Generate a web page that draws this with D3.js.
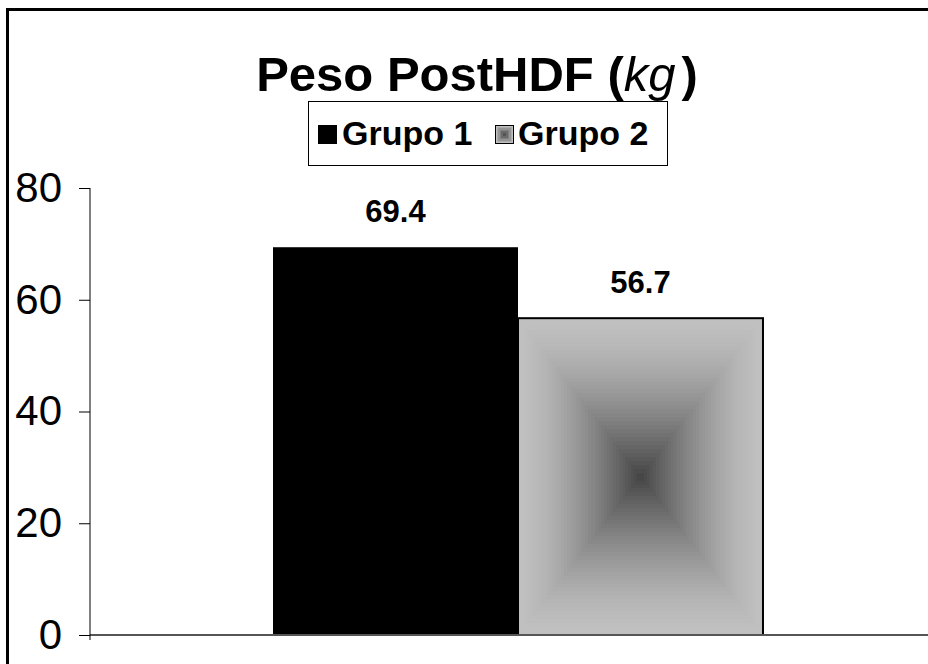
<!DOCTYPE html>
<html>
<head>
<meta charset="utf-8">
<script src="https://cdn.jsdelivr.net/npm/d3@7"></script>
<style>
  html, body { margin: 0; padding: 0; background: #fff; overflow: hidden; }
  svg { display: block; font-family: "Liberation Sans", Arial, sans-serif; }
</style>
</head>
<body>
<svg id="chart" width="928" height="664"></svg>
<script>
// Data
const categories = ["Peso PostHDF"];
const seriesNames = ["Grupo 1", "Grupo 2"];
const seriesValues = [69.4, 56.7];
const yTicks = [0, 20, 40, 60, 80];

const svg = d3.select("#chart");
const W = 928, H = 664;

// Plot geometry
const plot = { left: 90, right: 946, top: 188, bottom: 635 };

const y = d3.scaleLinear().domain([0, 80]).range([plot.bottom, plot.top]);
const x0 = d3.scaleBand().domain(categories).range([plot.left, plot.right])
  .paddingInner(0).paddingOuter(0.3735);
const x1 = d3.scaleBand().domain(seriesNames).range([0, x0.bandwidth()]);

// Outer chart frame (left and top edges are inside the view)
svg.append("path")
  .attr("d", `M7.5,${H}V9.5H${W}`)
  .attr("fill", "none").attr("stroke", "#000").attr("stroke-width", 3);

// Concentric rectangle "from center" fill
function boxGradient(g, bx, by, bw, bh, steps, outer, inner, gamma) {
  const col = d3.interpolateRgb(outer, inner);
  const cx = bx + bw / 2, cy = by + bh / 2;
  for (let i = 0; i < steps; i++) {
    const f = 1 - i / steps;
    g.append("rect")
      .attr("x", cx - f * bw / 2).attr("y", cy - f * bh / 2)
      .attr("width", f * bw).attr("height", f * bh)
      .attr("fill", col(Math.pow(i / (steps - 1), gamma)))
      .attr("shape-rendering", "crispEdges");
  }
}

// Bars
const data = seriesNames.map((s, i) => ({ series: s, value: seriesValues[i] }));
const barG = svg.append("g");
data.forEach((d, i) => {
  const bx = x0(categories[0]) + x1(d.series);
  const by = y(d.value);
  const bw = x1.bandwidth();
  const bh = y(0) - by;
  if (i === 0) {
    barG.append("rect").attr("x", bx).attr("y", by)
      .attr("width", bw).attr("height", bh).attr("fill", "#000");
  } else {
    boxGradient(barG.append("g"), bx, by, bw, bh, 40, "#c0c0c0", "#474747", 1.5);
    barG.append("rect").attr("x", bx).attr("y", by)
      .attr("width", bw).attr("height", bh)
      .attr("fill", "none").attr("stroke", "#000").attr("stroke-width", 2);
  }
  // value label
  svg.append("text")
    .attr("x", bx + bw / 2).attr("y", by - 25)
    .attr("text-anchor", "middle")
    .attr("font-size", 31).attr("font-weight", "bold")
    .text(d.value.toFixed(1));
});

// X axis baseline
svg.append("line")
  .attr("x1", plot.left).attr("x2", W)
  .attr("y1", y(0)).attr("y2", y(0))
  .attr("stroke", "#555").attr("stroke-width", 2);

// Y axis
const yAxis = d3.axisLeft(y).tickValues(yTicks).tickSize(11).tickPadding(17)
  .tickFormat(d3.format("d"));
const yg = svg.append("g").attr("transform", `translate(${plot.left},0)`).call(yAxis);
yg.select(".domain").remove();
yg.append("line").attr("x1", 0).attr("x2", 0)
  .attr("y1", plot.top).attr("y2", plot.bottom + 5)
  .attr("stroke", "#000").attr("stroke-width", 1);
yg.selectAll(".tick line").attr("stroke", "#000").attr("stroke-width", 1);
yg.selectAll(".tick text")
  .attr("font-family", "'Liberation Sans', Arial, sans-serif")
  .attr("font-size", 42).attr("fill", "#000");

// Title
const title = svg.append("text")
  .attr("x", 477).attr("y", 91)
  .attr("text-anchor", "middle")
  .attr("font-size", 49).attr("font-weight", "bold");
title.append("tspan").text("Peso PostHDF (");
title.append("tspan").attr("font-style", "italic").attr("font-weight", "normal").text("kg");
title.append("tspan").attr("dx", 6).text(")");

// Legend
const lg = svg.append("g");
lg.append("rect").attr("x", 308.5).attr("y", 101.5)
  .attr("width", 359).attr("height", 64)
  .attr("fill", "#fff").attr("stroke", "#000").attr("stroke-width", 1);
const legendItems = [
  { name: seriesNames[0], sx: 318, tx: 342 },
  { name: seriesNames[1], sx: 495, tx: 518 }
];
legendItems.forEach((it, i) => {
  if (i === 0) {
    lg.append("rect").attr("x", it.sx).attr("y", 125).attr("width", 19).attr("height", 19).attr("fill", "#000");
  } else {
    boxGradient(lg.append("g"), it.sx, 125, 19, 19, 6, "#c0c0c0", "#555555", 1);
    lg.append("rect").attr("x", it.sx + 0.5).attr("y", 125.5).attr("width", 18).attr("height", 18)
      .attr("fill", "none").attr("stroke", "#000").attr("stroke-width", 1);
  }
  lg.append("text").attr("x", it.tx).attr("y", 145)
    .attr("font-size", 34).attr("font-weight", "bold").text(it.name);
});
</script>
</body>
</html>
